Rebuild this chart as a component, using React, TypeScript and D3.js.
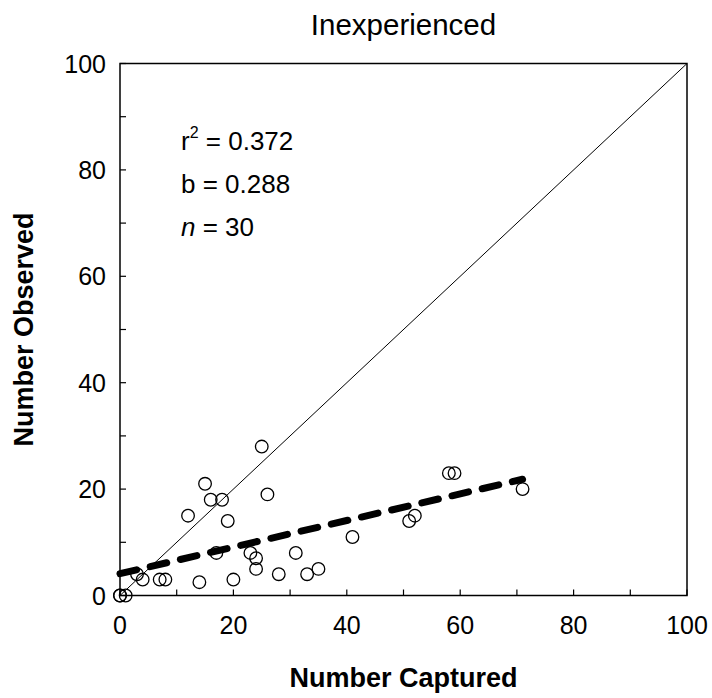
import React from "react";
import * as d3 from "d3";

const capturedX = [0, 0, 1, 3, 4, 7, 8, 14, 20, 12, 15, 16, 18, 17, 19, 23, 24, 24, 25, 26, 28, 31, 33, 35, 41, 51, 52, 58, 59, 71];
const observedY = [0, 0, 0, 4, 3, 3, 3, 2.5, 3, 15, 21, 18, 18, 8, 14, 8, 7, 5, 28, 19, 4, 8, 4, 5, 11, 14, 15, 23, 23, 20];
const xTicks = [0, 10, 20, 30, 40, 50, 60, 70, 80, 90, 100];
const labelTicks = [0, 20, 40, 60, 80, 100];
const fitIntercept = 4.1;
const fitSlope = 0.25;
const fitRange = [0, 71];
const statLines = ["0.372", "0.288", "30"];

const W = 712;
const H = 698;
const L = 120, R = 687, T = 63.5, B = 595.5;
const FONT = "'Liberation Sans', Arial, sans-serif";

export default function App() {
  const x = d3.scaleLinear().domain([0, 100]).range([L, R]);
  const y = d3.scaleLinear().domain([0, 100]).range([B, T]);
  const fitLine = d3.line<number>().x((d) => x(d)).y((d) => y(fitIntercept + fitSlope * d));
  const idLine = d3.line<number>().x((d) => x(d)).y((d) => y(d));
  const tick = 6;
  return (
    <svg width={W} height={H} style={{ position: "absolute", left: 0, top: 0, background: "#fff" }} fontFamily={FONT}>
      <rect x={0} y={0} width={W} height={H} fill="#fff" />
      <text x={(L + R) / 2} y={35} textAnchor="middle" fontSize={29.5}>Inexperienced</text>
      <path d={idLine([0, 100]) || ""} stroke="#000" strokeWidth={1} fill="none" />
      {xTicks.map((t) => (
        <g key={"t" + t}>
          <line x1={x(t)} x2={x(t)} y1={B} y2={B - tick} stroke="#000" strokeWidth={1.2} />
          <line x1={L} x2={L + tick} y1={y(t)} y2={y(t)} stroke="#000" strokeWidth={1.2} />
        </g>
      ))}
      {labelTicks.map((t) => (
        <g key={"l" + t}>
          <text x={x(t)} y={B + 38} textAnchor="middle" fontSize={25}>{t}</text>
          <text x={L - 14} y={y(t) + 9} textAnchor="end" fontSize={25}>{t}</text>
        </g>
      ))}
      {capturedX.map((cx, i) => (
        <circle key={"p" + i} cx={x(cx)} cy={y(observedY[i])} r={6.3} fill="none" stroke="#000" strokeWidth={1.3} />
      ))}
      <path d={fitLine(fitRange) || ""} stroke="#000" strokeWidth={7} fill="none" strokeDasharray="17 14" strokeLinecap="round" />
      <rect x={L} y={T} width={R - L} height={B - T} fill="none" stroke="#000" strokeWidth={1.5} />
      <text x={181} y={150} fontSize={26}>
        <tspan>r</tspan>
        <tspan fontSize={16} dy={-12}>2</tspan>
        <tspan dy={12}>{" = " + statLines[0]}</tspan>
      </text>
      <text x={181} y={193} fontSize={26}>{"b = " + statLines[1]}</text>
      <text x={181} y={236} fontSize={26}>
        <tspan fontStyle="italic">n</tspan>
        <tspan>{" = " + statLines[2]}</tspan>
      </text>
      <text x={(L + R) / 2} y={687} textAnchor="middle" fontSize={27} fontWeight="bold">Number Captured</text>
      <text transform={`translate(33, ${(T + B) / 2}) rotate(-90)`} textAnchor="middle" fontSize={27} fontWeight="bold">Number Observed</text>
    </svg>
  );
}
